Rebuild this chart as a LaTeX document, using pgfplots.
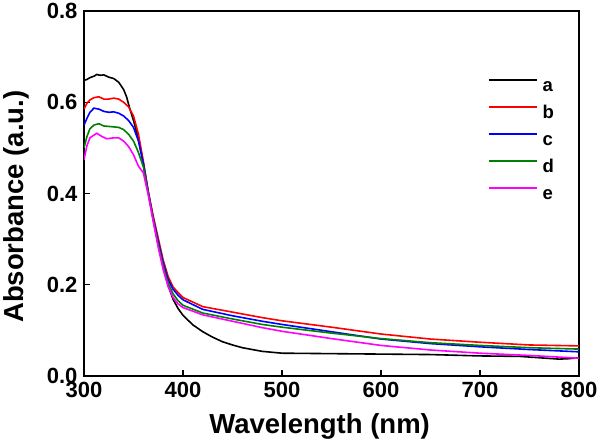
\documentclass[border=0pt]{standalone}
\usepackage{pgfplots}
\pgfplotsset{compat=1.18}
\usepackage{fontspec}
\setmainfont{Liberation Sans}
\definecolor{cgreen}{RGB}{0,128,0}
\definecolor{cmag}{RGB}{255,0,255}
\definecolor{cred}{RGB}{255,0,0}
\definecolor{cblue}{RGB}{0,0,255}
\begin{document}
\begin{tikzpicture}
\useasboundingbox (-84bp,-67bp) rectangle (516bp,376bp);
\begin{axis}[
  at={(0,0)}, anchor=south west,
  scale only axis, width=495bp, height=365bp,
  xmin=300, xmax=800, ymin=0, ymax=0.8,
  xtick={300,400,...,800}, ytick={0,0.2,...,0.8},
  tick pos=left, tick align=inside, major tick length=6bp,
  axis line style={line width=1.6bp},
  every tick/.style={line width=1.4bp, black},
  /pgf/number format/assume math mode=true,
  yticklabel style={/pgf/number format/fixed, /pgf/number format/fixed zerofill, /pgf/number format/precision=1, xshift=-3bp},
  ticklabel style={font=\fontsize{22bp}{22bp}\selectfont\bfseries},
  xticklabel style={yshift=-2.5bp},
  xlabel={Wavelength (nm)}, ylabel={Absorbance (a.u.)},
  label style={font=\fontsize{27.5bp}{28bp}\selectfont\bfseries},
  xlabel style={at={(rel axis cs:0.476,0)}, anchor=base, yshift=-57bp},
  ylabel style={at={(rel axis cs:0,0.464)}, anchor=base, yshift=60bp},
  legend cell align=left,
  legend image code/.code={\draw[#1] (0bp,4.8bp) -- (48bp,4.8bp);},
  legend style={draw=none, fill=none, at={(rel axis cs:0.816,0.816)}, anchor=north west,
    inner sep=0pt, row sep=14bp, column sep=5bp,
    nodes={inner sep=0pt, text height=13bp, text depth=0bp, font=\fontsize{18.5bp}{18.5bp}\selectfont\bfseries}},
  every axis plot/.append style={line width=1.6bp},
]
\addplot[black] coordinates {
(300,0.648)(303,0.650)(306,0.654)(310,0.657)(313,0.661)(316,0.659)(320,0.660)(325,0.655)(330,0.652)(335,0.644)(340,0.628)(343,0.612)(346,0.588)(350,0.560)(355,0.520)(360,0.465)(365,0.402)(370,0.343)(375,0.287)(380,0.238)(385,0.198)(390,0.168)(395,0.148)(400,0.133)(410,0.112)(420,0.097)(430,0.085)(440,0.075)(450,0.068)(460,0.062)(470,0.058)(480,0.054)(490,0.052)(500,0.050)(550,0.049)(600,0.048)(650,0.047)(700,0.044)(740,0.043)(760,0.040)(780,0.037)(790,0.038)(800,0.040)};
\addplot[cred] coordinates {
(300,0.585)(303,0.598)(306,0.605)(310,0.610)(315,0.612)(320,0.607)(325,0.607)(330,0.609)(335,0.607)(340,0.600)(345,0.590)(350,0.570)(355,0.530)(360,0.470)(365,0.403)(370,0.350)(375,0.302)(380,0.254)(385,0.218)(390,0.195)(395,0.183)(400,0.172)(420,0.152)(450,0.140)(480,0.128)(500,0.121)(550,0.107)(600,0.092)(650,0.081)(700,0.074)(750,0.068)(800,0.066)};
\addplot[cblue] coordinates {
(300,0.550)(303,0.565)(306,0.578)(310,0.587)(315,0.585)(320,0.580)(325,0.578)(330,0.579)(335,0.576)(340,0.570)(345,0.560)(350,0.545)(355,0.515)(360,0.465)(365,0.401)(370,0.345)(375,0.295)(380,0.247)(385,0.211)(390,0.190)(395,0.177)(400,0.167)(420,0.146)(450,0.132)(480,0.120)(500,0.113)(550,0.097)(600,0.081)(650,0.071)(700,0.064)(750,0.058)(800,0.053)};
\addplot[cgreen] coordinates {
(300,0.500)(303,0.525)(306,0.542)(310,0.550)(315,0.553)(320,0.548)(325,0.547)(330,0.546)(335,0.545)(340,0.540)(345,0.530)(350,0.515)(355,0.490)(360,0.458)(365,0.399)(370,0.342)(375,0.288)(380,0.240)(385,0.203)(390,0.180)(395,0.165)(400,0.155)(420,0.138)(450,0.125)(480,0.113)(500,0.107)(550,0.094)(600,0.082)(650,0.073)(700,0.067)(750,0.062)(800,0.059)};
\addplot[cmag] coordinates {
(300,0.474)(303,0.505)(306,0.522)(310,0.528)(313,0.532)(318,0.525)(323,0.520)(330,0.522)(335,0.522)(340,0.515)(345,0.503)(350,0.485)(355,0.460)(360,0.445)(365,0.396)(370,0.338)(375,0.282)(380,0.233)(385,0.196)(390,0.172)(395,0.158)(400,0.150)(420,0.134)(450,0.120)(480,0.106)(500,0.098)(550,0.082)(600,0.067)(650,0.057)(700,0.050)(750,0.045)(800,0.039)};
\legend{a,b,c,d,e}
\end{axis}
\end{tikzpicture}
\end{document}
